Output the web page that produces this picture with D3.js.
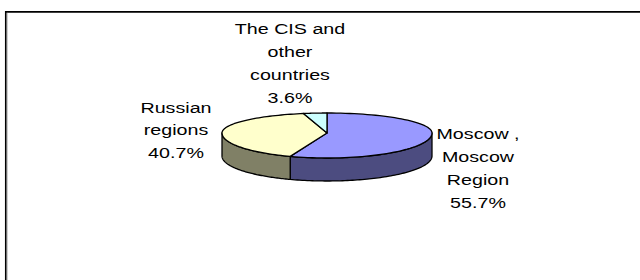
<!DOCTYPE html>
<html><head><meta charset="utf-8">
<script src="https://cdn.jsdelivr.net/npm/d3@7"></script>
<style>html,body{margin:0;padding:0;background:#fff;} svg{display:block;}</style>
</head><body><svg id="c" width="640" height="280"></svg>
<script>
// ---- data ----
const categories = ["Moscow , Moscow Region", "Russian regions", "The CIS and other countries"];
const labelLines = [["Moscow ,", "Moscow", "Region"], ["Russian", "regions"], ["The CIS and", "other", "countries"]];
const values = [55.7, 40.7, 3.6];

// ---- styles / layout ----
const topColors = ["#9999FF", "#FFFFCC", "#CCFFFF"];
const sideColors = ["#4C4C80", "#808066", "#668080"];
const cx = 327, cy = 133, rx = 105, ryBack = 20, ryFront = 25, depth = 23;
const fontSize = 15.5, stretch = 1.27, lineH = 23;
// label block: center x and first baseline
const labelPos = [[478, 139], [176, 112.5], [290, 34]];

const svg = d3.select("#c");

// frame
svg.append("path").attr("d", "M5.8,300 V11.8 H660").attr("fill", "none")
  .attr("stroke", "#000").attr("stroke-width", 1.7);
svg.append("line").attr("x1", 7.1).attr("x2", 7.1).attr("y1", 12.8).attr("y2", 300)
  .attr("stroke", "#9a9a9a").attr("stroke-width", 0.8);

const arcs = d3.pie().sort(null).value(d => d)(values);
const px = a => cx + rx * Math.sin(a);
const py = a => { const c = Math.cos(a); return cy - (c > 0 ? ryBack : ryFront) * c; };
const line = d3.line();
const samples = (a0, a1) => d3.range(0, 81).map(i => a0 + (a1 - a0) * i / 80);

const g = svg.append("g");

// side walls (front half only)
arcs.forEach((d, i) => {
  const lo = Math.max(d.startAngle, Math.PI / 2), hi = Math.min(d.endAngle, 3 * Math.PI / 2);
  if (hi <= lo) return;
  const top = samples(lo, hi).map(a => [px(a), py(a)]);
  const bot = samples(hi, lo).map(a => [px(a), py(a) + depth]);
  g.append("path").attr("d", line(top.concat(bot)) + "Z")
    .attr("fill", sideColors[i]).attr("stroke", "#000").attr("stroke-width", 1.3)
    .attr("stroke-linejoin", "round");
});

// top faces
arcs.forEach((d, i) => {
  const pts = [[cx, cy]].concat(samples(d.startAngle, d.endAngle).map(a => [px(a), py(a)]));
  g.append("path").attr("d", line(pts) + "Z")
    .attr("fill", topColors[i]).attr("stroke", "#000").attr("stroke-width", 1.3)
    .attr("stroke-linejoin", "round");
});

// labels
const fmt = v => d3.format(".1f")(v) + "%";
arcs.forEach((d, i) => {
  const lines = labelLines[i].concat([fmt(values[i])]);
  const t = svg.append("text")
    .attr("transform", `translate(${labelPos[i][0]},${labelPos[i][1]}) scale(${stretch},1)`)
    .attr("text-anchor", "middle")
    .attr("font-family", "'Liberation Sans', Arial, sans-serif")
    .attr("font-size", fontSize).attr("fill", "#000");
  lines.forEach((s, k) => t.append("tspan").attr("x", 0).attr("y", k * lineH).text(s));
});
</script></body></html>
